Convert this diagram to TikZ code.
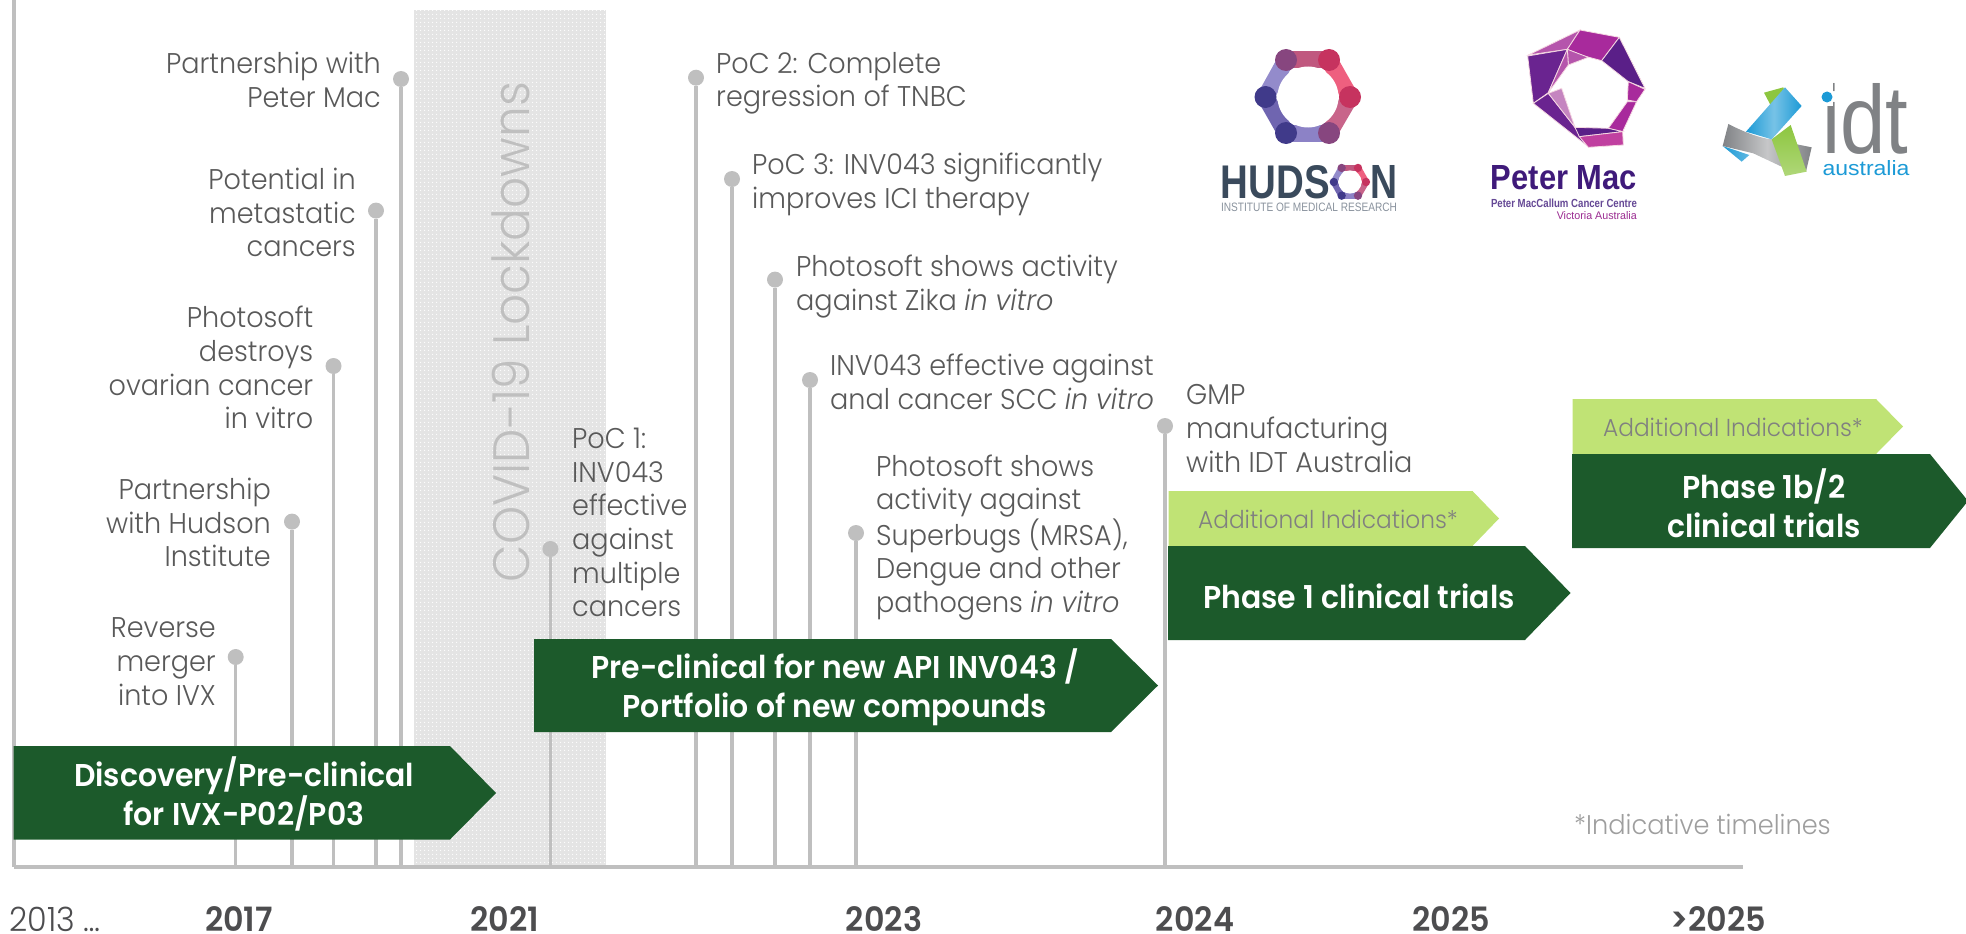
\documentclass[tikz,border=0pt]{standalone}
\usepackage{fontspec}
\usepackage{graphicx}
\usetikzlibrary{patterns.meta}
\setmainfont{Poppins}[UprightFont=* Light,ItalicFont=* Light Italic,BoldFont=* SemiBold,FakeStretch=0.95]
\newfontfamily\logofont{Liberation Sans}
\definecolor{dkgreen}{HTML}{1C5A2B}
\definecolor{ltgreen}{HTML}{C0E375}
\definecolor{stemgrey}{HTML}{BFBFBF}
\definecolor{txtgrey}{HTML}{595959}
\definecolor{covid}{HTML}{E4E4E4}
\definecolor{yeargrey}{HTML}{4D4D4F}
\definecolor{pmdark}{HTML}{3F1A7A}
\definecolor{pmmag}{HTML}{9A2A90}
\definecolor{HudText}{HTML}{3A4A5C}
\definecolor{PMa}{HTML}{B555AC}
\definecolor{PMb}{HTML}{A82A9C}
\definecolor{PMc}{HTML}{5A1F88}
\definecolor{PMd}{HTML}{6A2490}
\definecolor{PMe}{HTML}{C040A0}
\definecolor{PMl}{HTML}{C585C0}
\definecolor{IDb}{HTML}{1C9AD6}
\definecolor{IDg}{HTML}{808285}
\definecolor{IDgr}{HTML}{8DC63F}
\tikzset{
 x=1pt,y=-1pt,
 dotnode/.style={circle,fill=stemgrey,minimum size=16pt,inner sep=0pt},
 stem/.style={draw=stemgrey,line width=3.5pt},
 lblr/.style={font=\fontsize{28.5}{33.7}\selectfont,text=txtgrey,align=right,anchor=east,inner sep=0pt,yshift=-4.5pt,execute at begin node={\strut},execute at end node={\strut}},
 lbll/.style={font=\fontsize{28.5}{33.7}\selectfont,text=txtgrey,align=left,anchor=west,inner sep=0pt,yshift=-4.5pt,execute at begin node={\strut},execute at end node={\strut}},
 arrowtxt/.style={font=\fontsize{31.5}{38.5}\selectfont\bfseries,text=white,align=center,inner sep=0pt},
 addtxt/.style={font=\fontsize{24.5}{28}\selectfont,text=black!50,inner sep=0pt},
 yearb/.style={font=\fontsize{33.5}{36}\selectfont\bfseries,text=yeargrey,inner sep=0pt},
 facet/.style={draw=white!85!purple,line width=0.8pt},
}
\definecolor{HA}{HTML}{C0587F}
\definecolor{HB}{HTML}{EE5F7F}
\definecolor{HC}{HTML}{C8648A}
\definecolor{HD}{HTML}{8C82C6}
\definecolor{HE}{HTML}{6F65B0}
\definecolor{HF}{HTML}{938BCB}
\definecolor{HG}{HTML}{87467F}
\definecolor{HH}{HTML}{C6335F}
\definecolor{HI}{HTML}{403A8A}
\newcommand{\myring}[4]{%
 \begin{scope}[shift={(#1,#2)},scale=#3]
  \draw[line width=#4,draw=HA] (-22,-37)--(21,-37);
  \draw[line width=#4,draw=HB] (21,-37)--(42,0);
  \draw[line width=#4,draw=HC] (42,0)--(21,36);
  \draw[line width=#4,draw=HD] (21,36)--(-22,36);
  \draw[line width=#4,draw=HE] (-22,36)--(-42.5,0);
  \draw[line width=#4,draw=HF] (-42.5,0)--(-22,-37);
  \fill[white] (0,0) circle (30.5);
  \fill[HG] (-22,-37) circle (11);
  \fill[HH] (21,-37) circle (11);
  \fill[HH] (42,0) circle (11);
  \fill[HG] (21,36) circle (11);
  \fill[HI] (-22,36) circle (11);
  \fill[HI] (-42.5,0) circle (11);
 \end{scope}}
\begin{document}
\begin{tikzpicture}
\useasboundingbox (0,0) rectangle (1966,934);
\clip (0,0) rectangle (1966,934);
% covid band
\fill[covid] (414,10) rectangle (606,867);
\fill[pattern={Dots[distance=4pt,radius=0.7pt,xshift=1pt]},pattern color=white] (414,10) rectangle (606,867);
\node[rotate=90,inner sep=0pt,text=stemgrey] (covidtxt) at (511,332) {\resizebox{500pt}{!}{COVID-19 Lockdowns}};
% axes
\coordinate (o) at (14,867); \coordinate (top) at (14,0); \coordinate (axr) at (1743,867);
\draw[stem] (top) -- (o);
\draw[draw=stemgrey,line width=4pt] (o) -- (axr);
% stems
\foreach \n/\x/\y in {1/235.7/657,2/292/521.6,3/333.5/366,4/376/210.6,5/401/79,6/550.4/549,7/696/77.7,8/732/179,9/775/279.6,10/810/380,11/856/533,12/1165/426}{
 \node[dotnode] (d\n) at (\x,\y) {};
 \coordinate (b\n) at (\x,867);
 \draw[stem] (d\n) -- (b\n);
}
% arrows
\fill[dkgreen] (13.5,746) -- (450,746) -- (496,793) -- (450,839.5) -- (13.5,839.5) -- cycle;
\fill[dkgreen] (534,639) -- (1111,639) -- (1158,685.5) -- (1111,732) -- (534,732) -- cycle;
\fill[ltgreen] (1168.5,491) -- (1472.5,491) -- (1499,518.5) -- (1472.5,546) -- (1168.5,546) -- cycle;
\fill[dkgreen] (1168,546) -- (1525,546) -- (1570.5,593) -- (1525,640) -- (1168,640) -- cycle;
\fill[ltgreen] (1572.5,399) -- (1876,399) -- (1903,426.5) -- (1876,454) -- (1572.5,454) -- cycle;
\fill[dkgreen] (1572,454) -- (1930,454) -- (1968,501) -- (1930,548) -- (1572,548) -- cycle;
% arrow labels
\node[arrowtxt] (t1) at (244,794) {Discovery/Pre-clinical\\for IVX-P02/P03};
\node[arrowtxt] (t2) at (835,687) {Pre-clinical for new API INV043 /\\Portfolio of new compounds};
\node[arrowtxt] (t3) at (1359,596) {Phase 1 clinical trials};
\node[arrowtxt] (t4) at (1764,503) {Phase 1b/2\\clinical trials};
\node[addtxt] (a1) at (1328,519) {Additional Indications*};
\node[addtxt] (a2) at (1733,427) {Additional Indications*};
% event labels
\node[lblr] (l5) at (381,80) {Partnership with\\Peter Mac};
\node[lblr] (l4) at (356,213) {Potential in\\metastatic\\cancers};
\node[lblr] (l3) at (313.5,368) {Photosoft\\destroys\\ovarian cancer\\in vitro};
\node[lblr] (l2) at (271,523) {Partnership\\with Hudson\\Institute};
\node[lblr] (l1) at (216,662) {Reverse\\merger\\into IVX};
\node[lbll] (l6) at (572,523) {PoC 1:\\INV043\\effective\\against\\multiple\\cancers};
\node[lbll] (l7) at (716,80) {PoC 2: Complete\\regression of TNBC};
\node[lbll] (l8) at (752,181) {PoC 3: INV043 significantly\\improves ICI therapy};
\node[lbll] (l9) at (796,283) {Photosoft shows activity\\against Zika \textit{in vitro}};
\node[lbll] (l10) at (830,382.5) {INV043 effective against\\anal cancer SCC \textit{in vitro}};
\node[lbll] (l11) at (876,534) {Photosoft shows\\activity against\\Superbugs (MRSA),\\Dengue and other\\pathogens \textit{in vitro}};
\node[lbll] (l12) at (1186,429) {GMP\\manufacturing\\with IDT Australia};
\node[font=\fontsize{27}{30}\selectfont,text=black!38,anchor=west,inner sep=0pt] (note) at (1574,824) {*Indicative timelines};
% years
\node[font=\fontsize{33.5}{36}\selectfont,text=yeargrey,anchor=west,inner sep=0pt] (y0) at (9,919) {2013 …};
\node[yearb] (y1) at (239,919) {2017};
\node[yearb] (y2) at (504.5,919) {2021};
\node[yearb] (y3) at (884,919) {2023};
\node[yearb] (y4) at (1195,919) {2024};
\node[yearb] (y5) at (1451,919) {2025};
\node[yearb] (y6) at (1718,919) {>2025};
% Hudson logo
\myring{1308}{97}{1}{17pt}
\myring{1350}{182}{0.38}{6.5pt}
\node[inner sep=0pt,text=HudText] (hud1) at (1275.5,182) {\logofont\bfseries\resizebox{109pt}{33pt}{HUDS}};
\node[inner sep=0pt,text=HudText] (hud2) at (1383.5,182) {\logofont\bfseries\resizebox{27pt}{33pt}{N}};
\node[inner sep=0pt,text=HudText!60] (hud3) at (1309,207) {\logofont\resizebox{176pt}{8.5pt}{INSTITUTE OF MEDICAL RESEARCH}};
% Peter Mac logo
\begin{scope}[shift={(1480,20)},scale=0.3333]
 \path[facet,fill=PMa] (145,105) -- (300,30) -- (262,88) -- cycle;
 \path[facet,fill=PMb] (300,30) -- (418,52) -- (365,122) -- (312,108) -- (262,88) -- cycle;
 \path[facet,fill=PMc] (418,52) -- (495,205) -- (445,185) -- (365,122) -- cycle;
 \path[facet,fill=PMa] (262,88) -- (325,112) -- (265,135) -- cycle;
 \path[facet,fill=PMd] (143,108) -- (262,88) -- (205,218) -- (160,250) -- cycle;
 \path[facet,fill=PMa] (262,88) -- (265,135) -- (205,218) -- cycle;
 \path[facet,fill=PMb] (445,185) -- (495,208) -- (470,245) -- (442,240) -- cycle;
 \path[facet,fill=PMb] (470,245) -- (428,335) -- (385,325) -- (442,245) -- cycle;
 \path[facet,fill=PMd] (205,220) -- (285,322) -- (322,378) -- (160,250) -- cycle;
 \path[facet,fill=PMl] (205,220) -- (245,205) -- (285,322) -- cycle;
 \path[facet,fill=PMc] (285,322) -- (385,325) -- (428,335) -- (298,350) -- cycle;
 \path[facet,fill=PMe] (298,350) -- (428,335) -- (430,375) -- (325,382) -- cycle;
\end{scope}
\node[inner sep=0pt,text=pmdark] (pm1) at (1564,178) {\logofont\bfseries\resizebox{146pt}{24pt}{Peter Mac}};
\node[inner sep=0pt,text=pmdark!80] (pm2) at (1564,203.5) {\logofont\bfseries\resizebox{146pt}{8.5pt}{Peter MacCallum Cancer Centre}};
\node[inner sep=0pt,text=pmmag,anchor=east] (pm3) at (1637,216) {\logofont\resizebox{80pt}{8pt}{Victoria Australia}};
% IDT logo
\begin{scope}[shift={(1700,70)},scale=0.3333]
 \path[left color=IDb,right color=IDb!70!white] (68,228) -- (148,255) -- (125,275) -- cycle;
 \path[left color=IDg,right color=IDg,middle color=IDg!45!white] (85,162) .. controls (130,185) and (180,205) .. (215,208) -- (335,232) -- (318,305) -- (245,290) -- (160,250) -- (68,228) -- cycle;
 \path[fill=IDgr] (192,68) -- (250,52) -- (262,90) -- (222,125) -- cycle;
 \path[top color=IDgr,bottom color=IDgr!70!white] (215,208) -- (272,165) -- (320,305) -- (255,318) -- cycle;
 \path[left color=IDb,right color=IDb,middle color=IDb!60!white] (255,52) -- (305,108) -- (215,208) -- (138,185) -- cycle;
\end{scope}
\node[inner sep=0pt,text=IDg] (idt) at (1865.5,119) {\logofont\resizebox{86pt}{70pt}{idt}};
\fill[white] (1822,82) rectangle (1833,106);
\fill[IDb] (1827,97) circle (5.5);
\node[inner sep=0pt,text=IDb] (aus) at (1866,168) {\logofont\resizebox{87pt}{15pt}{australia}};
\end{tikzpicture}
\end{document}
